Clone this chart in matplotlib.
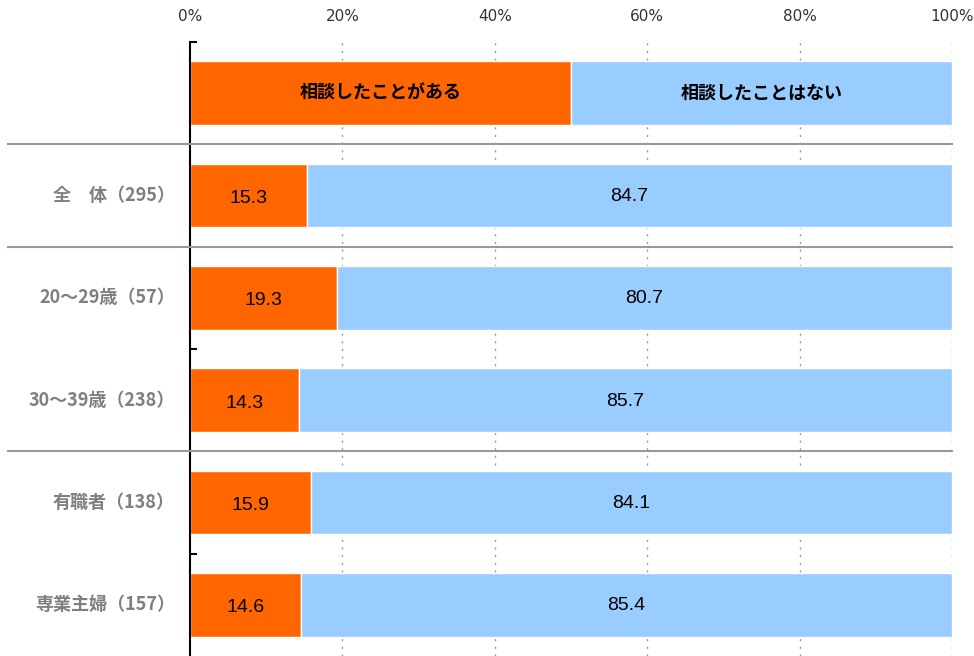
import matplotlib
matplotlib.use("Agg")
import matplotlib.pyplot as plt
import matplotlib.transforms as mtransforms

plt.rcParams['font.family'] = ['Noto Sans CJK JP', 'DejaVu Sans']

categories = ['全　体（295）', '20～29歳（57）', '30～39歳（238）', '有職者（138）', '専業主婦（157）']
yes_vals = [15.3, 19.3, 14.3, 15.9, 14.6]
no_vals = [84.7, 80.7, 85.7, 84.1, 85.4]
legend_labels = ['相談したことがある', '相談したことはない']
xticks = [0, 20, 40, 60, 80, 100]

orange = '#FF6600'
blue = '#99CCFF'

fig = plt.figure(figsize=(9.74, 6.56), dpi=100)
ax = fig.add_axes([190 / 974, 0, 762 / 974, 1 - 42 / 656])

bar_h = 0.62
# header bar used as legend
ax.barh(0, 50, height=bar_h, color=orange, edgecolor='white', linewidth=1)
ax.barh(0, 50, left=50, height=bar_h, color=blue, edgecolor='white', linewidth=1)
ax.text(25, 0, legend_labels[0], ha='center', va='center', fontsize=13, fontweight='bold')
ax.text(75, 0, legend_labels[1], ha='center', va='center', fontsize=13, fontweight='bold')

ypos = list(range(1, len(categories) + 1))
ax.barh(ypos, yes_vals, height=bar_h, color=orange, edgecolor='white', linewidth=1)
ax.barh(ypos, no_vals, left=yes_vals, height=bar_h, color=blue, edgecolor='white', linewidth=1)

for y, a, b in zip(ypos, yes_vals, no_vals):
    ax.text(a / 2, y + 0.03, f'{a:.1f}', ha='center', va='center', fontsize=14, family='Liberation Sans')
    ax.text(a + b / 2, y + 0.01, f'{b:.1f}', ha='center', va='center', fontsize=14, family='Liberation Sans')

trans = mtransforms.blended_transform_factory(ax.transAxes, ax.transData)
for y, lab in zip(ypos, categories):
    ax.text(-0.02, y, lab, transform=trans, ha='right', va='center',
            fontsize=13, fontweight='bold', color='#7f7f7f')

# group separators
for y in [0.5, 1.5, 3.5]:
    ax.plot([-0.239, 1.0], [y, y], transform=trans, color='#999999', lw=1.5,
            clip_on=False, zorder=3)

ax.set_xlim(0, 100)
ax.set_ylim(5.5, -0.5)
ax.set_xticks(xticks)
ax.set_xticklabels([f'{t}%' for t in xticks], fontsize=11, color='#333333', family='DejaVu Sans')
ax.xaxis.tick_top()
ax.tick_params(axis='x', length=0, pad=13)
for t in xticks[1:]:
    ax.axvline(t, color='#999999', lw=1, ls=(0, (1.5, 4)), zorder=0)

ax.set_yticks([-0.5, 2.5, 4.5])
ax.set_yticklabels([])
ax.tick_params(axis='y', direction='in', length=5, width=1.5, color='black')

for s in ['top', 'right', 'bottom']:
    ax.spines[s].set_visible(False)
ax.spines['left'].set_linewidth(1.5)
ax.set_facecolor('white')

fig.savefig('out.png', dpi=100)
